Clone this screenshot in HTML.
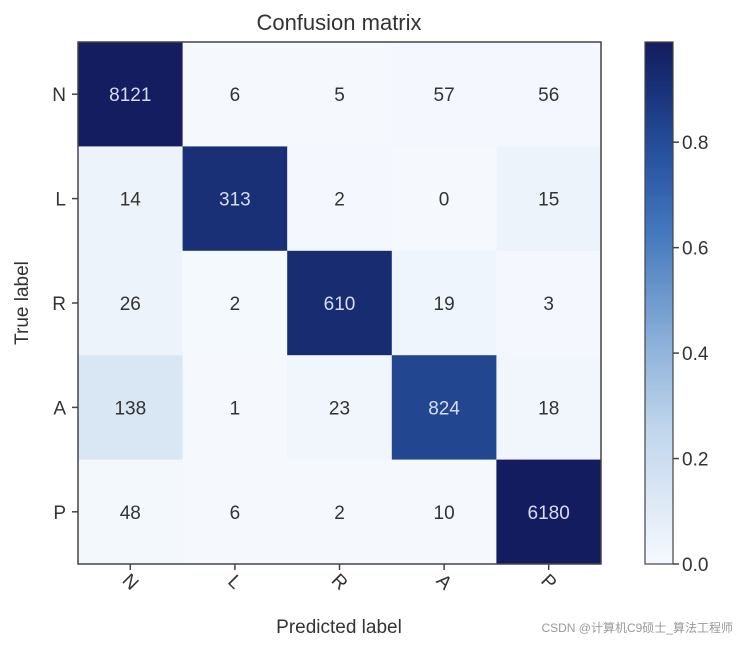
<!DOCTYPE html>
<html><head><meta charset="utf-8"><style>
body{margin:0;background:#fff;width:743px;height:640px;overflow:hidden;font-family:"Liberation Sans","DejaVu Sans",sans-serif}
</style></head><body>
<svg id="chart" width="743" height="640" xmlns="http://www.w3.org/2000/svg">
<defs>
<linearGradient id="cbgrad" x1="0" y1="1" x2="0" y2="0">
<stop offset="0" stop-color="#f5f9fe"/><stop offset="0.13" stop-color="#dbe7f5"/><stop offset="0.26" stop-color="#c0d5ec"/><stop offset="0.4" stop-color="#93b6dc"/><stop offset="0.52" stop-color="#6a96cc"/><stop offset="0.64" stop-color="#4277bd"/><stop offset="0.77" stop-color="#2a55a3"/><stop offset="0.89" stop-color="#1b377f"/><stop offset="1" stop-color="#131c5e"/>
</linearGradient>
</defs>
<g id="cells"></g>
<rect x="78" y="42" width="523" height="522" fill="none" stroke="#444" stroke-width="1.5"/>
<text x="339" y="30" font-size="22" text-anchor="middle" fill="#333">Confusion matrix</text>
<g id="axes"></g>
<rect x="645" y="42" width="28" height="522" fill="url(#cbgrad)" stroke="#444" stroke-width="1.2"/>
<g id="cbticks"></g>
<text transform="translate(28,303) rotate(-90)" font-size="19" text-anchor="middle" fill="#333">True label</text>
<text x="339" y="633" font-size="19" text-anchor="middle" fill="#333">Predicted label</text>
<text x="733" y="632" font-size="12" text-anchor="end" fill="#999" font-family="'Liberation Sans','Noto Sans CJK SC',sans-serif">CSDN @计算机C9硕士_算法工程师</text>
</svg>
<script>
const labels = ["N","L","R","A","P"];
const counts = [
 [8121,6,5,57,56],
 [14,313,2,0,15],
 [26,2,610,19,3],
 [138,1,23,824,18],
 [48,6,2,10,6180]
];
const cbTicks = [0.0,0.2,0.4,0.6,0.8];
const cbTickLabels = ["0.0","0.2","0.4","0.6","0.8"];
const cbMax = 0.99;

const NS="http://www.w3.org/2000/svg";
const X0=78,Y0=42,W=523,H=522,n=labels.length,cw=W/n,ch=H/n;
const stops=[[0,[245,249,254]],[0.13,[219,231,245]],[0.26,[192,213,236]],[0.4,[147,182,220]],[0.52,[106,150,204]],[0.64,[66,119,189]],[0.77,[42,85,163]],[0.89,[27,55,127]],[1,[19,28,94]]];
function color(v){v=Math.max(0,Math.min(1,v/cbMax));for(let i=1;i<stops.length;i++){if(v<=stops[i][0]){const a=stops[i-1],b=stops[i],t=(v-a[0])/(b[0]-a[0]);return "rgb("+a[1].map((c,k)=>Math.round(c+(b[1][k]-c)*t)).join(",")+")";}}return "rgb(19,28,94)";}
function mk(tag,attrs,parent){const e=document.createElementNS(NS,tag);for(const k in attrs)e.setAttribute(k,attrs[k]);parent.appendChild(e);return e;}
const cells=document.getElementById('cells');
counts.forEach((row,i)=>{
 const s=row.reduce((a,b)=>a+b,0);
 row.forEach((c,j)=>{
  const v=c/s;
  const r=mk('rect',{x:X0+j*cw,y:Y0+i*ch,width:cw+0.5,height:ch+0.5,fill:color(v)},cells);
  
  
  const t=mk('text',{x:X0+(j+0.5)*cw,y:Y0+(i+0.5)*ch+7,'font-size':19,'text-anchor':'middle',fill:v>0.5?'#d8dcf0':'#333'},cells);
  
  
  t.textContent=c;
 });
});
const axes=document.getElementById('axes');
labels.forEach((l,i)=>{
 const y=Y0+(i+0.5)*ch;
 mk('line',{x1:X0-6,y1:y,x2:X0,y2:y,stroke:'#444','stroke-width':1.5},axes);
 const t=mk('text',{x:X0-12,y:y+7,'font-size':19,'text-anchor':'end',fill:'#333'},axes);
 
 
 t.textContent=l;
 const x=X0+(i+0.5)*cw;
 mk('line',{x1:x,y1:Y0+H,x2:x,y2:Y0+H+6,stroke:'#444','stroke-width':1.5},axes);
 const tx=mk('text',{x:x,y:Y0+H+24,'font-size':19,'text-anchor':'middle',fill:'#333',transform:'rotate(45 '+x+' '+(Y0+H+18)+')'},axes);
 
 
 tx.textContent=l;
});
const cbt=document.getElementById('cbticks');
cbTicks.forEach((v,i)=>{
 const y=Y0+H-v/cbMax*H;
 mk('line',{x1:673,y1:y,x2:679,y2:y,stroke:'#444','stroke-width':1.5},cbt);
 const t=mk('text',{x:682,y:y+7,'font-size':19,fill:'#333'},cbt);
 
 
 t.textContent=cbTickLabels[i];
});
</script>
</body></html>
